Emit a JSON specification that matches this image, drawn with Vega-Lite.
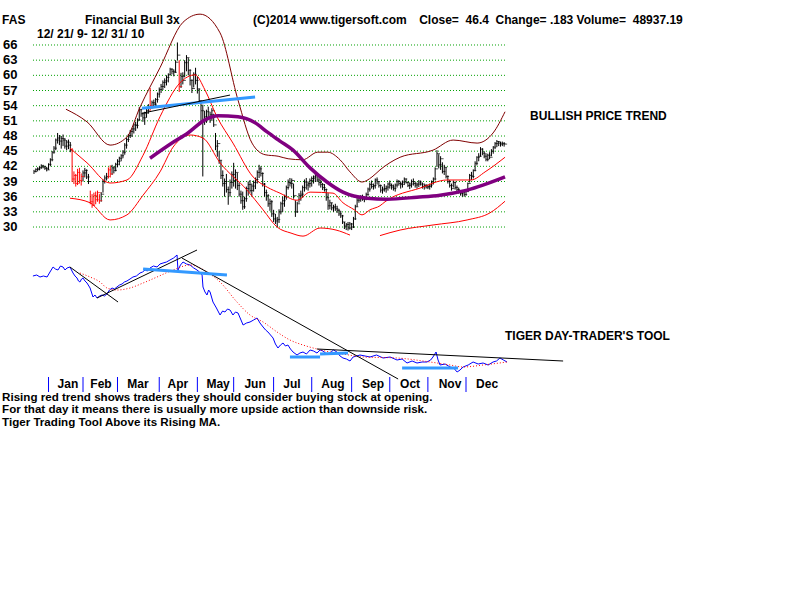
{
"$schema":"https://vega.github.io/schema/vega-lite/v6.json",
"width":800,"height":600,"padding":0,
"autosize":{"type":"fit","contains":"padding"},
"background":"white",
"config":{"view":{"stroke":null},"text":{"font":"Liberation Sans","fontWeight":"bold","fontSize":12,"align":"left","baseline":"middle","color":"black"}},
"datasets":{
"bars":[
{"d":0,"l":40.5,"h":41.3,"c":41.0,"s":0},{"d":1,"l":40.8,"h":41.6,"c":41.4,"s":0},{"d":2,"l":41.0,"h":41.8,"c":41.5,"s":0},{"d":3,"l":41.2,"h":42.0,"c":41.8,"s":0},{"d":4,"l":41.5,"h":42.4,"c":42.1,"s":0},{"d":5,"l":41.6,"h":42.3,"c":41.9,"s":0},{"d":6,"l":41.3,"h":42.1,"c":41.6,"s":0},{"d":7,"l":41.0,"h":41.9,"c":41.3,"s":0},{"d":8,"l":41.3,"h":42.6,"c":42.4,"s":0},{"d":9,"l":42.0,"h":43.6,"c":43.3,"s":0},
{"d":10,"l":43.0,"h":45.0,"c":44.8,"s":0},{"d":11,"l":44.5,"h":46.0,"c":45.6,"s":0},{"d":12,"l":45.2,"h":47.5,"c":47.2,"s":0},{"d":13,"l":46.5,"h":48.6,"c":47.6,"s":0},{"d":14,"l":46.2,"h":48.2,"c":47.0,"s":0},{"d":15,"l":45.5,"h":48.0,"c":47.5,"s":0},{"d":16,"l":46.0,"h":48.3,"c":47.2,"s":0},{"d":17,"l":45.5,"h":47.6,"c":46.0,"s":0},{"d":18,"l":45.2,"h":47.2,"c":46.8,"s":0},{"d":19,"l":45.4,"h":47.3,"c":46.2,"s":0},
{"d":20,"l":44.8,"h":46.8,"c":45.2,"s":0},{"d":21,"l":38.9,"h":45.6,"c":39.5,"s":1},{"d":22,"l":38.5,"h":41.0,"c":40.2,"s":1},{"d":23,"l":38.0,"h":40.5,"c":38.6,"s":1},{"d":24,"l":38.3,"h":41.5,"c":40.8,"s":1},{"d":25,"l":38.6,"h":41.7,"c":39.2,"s":1},{"d":26,"l":38.2,"h":40.6,"c":40.0,"s":1},{"d":27,"l":39.0,"h":41.2,"c":40.7,"s":0},{"d":28,"l":39.8,"h":41.7,"c":41.2,"s":0},{"d":29,"l":39.5,"h":41.4,"c":39.9,"s":0},
{"d":30,"l":38.5,"h":40.5,"c":39.0,"s":0},{"d":31,"l":34.5,"h":37.2,"c":35.0,"s":1},{"d":32,"l":33.8,"h":36.5,"c":34.3,"s":1},{"d":33,"l":34.2,"h":36.8,"c":36.2,"s":1},{"d":34,"l":34.5,"h":37.0,"c":35.4,"s":1},{"d":35,"l":35.0,"h":37.2,"c":36.8,"s":1},{"d":36,"l":34.6,"h":36.5,"c":35.2,"s":1},{"d":37,"l":35.0,"h":36.9,"c":36.5,"s":0},{"d":38,"l":36.8,"h":39.4,"c":39.0,"s":0},{"d":39,"l":38.6,"h":40.2,"c":39.7,"s":0},
{"d":40,"l":39.2,"h":40.7,"c":40.0,"s":0},{"d":41,"l":39.6,"h":41.8,"c":41.3,"s":1},{"d":42,"l":39.8,"h":42.2,"c":40.5,"s":1},{"d":43,"l":40.3,"h":42.3,"c":41.7,"s":0},{"d":44,"l":40.6,"h":42.0,"c":41.2,"s":0},{"d":45,"l":41.0,"h":42.7,"c":42.4,"s":0},{"d":46,"l":41.8,"h":43.4,"c":43.0,"s":0},{"d":47,"l":42.2,"h":43.9,"c":43.6,"s":0},{"d":48,"l":43.0,"h":44.4,"c":44.1,"s":0},{"d":49,"l":43.6,"h":45.2,"c":44.8,"s":0},
{"d":50,"l":44.3,"h":46.6,"c":46.2,"s":0},{"d":51,"l":45.5,"h":47.6,"c":47.3,"s":0},{"d":52,"l":46.8,"h":48.4,"c":48.1,"s":0},{"d":53,"l":47.6,"h":49.2,"c":48.9,"s":0},{"d":54,"l":47.8,"h":49.6,"c":49.4,"s":0},{"d":55,"l":48.5,"h":50.5,"c":50.2,"s":0},{"d":56,"l":49.0,"h":50.8,"c":50.1,"s":0},{"d":57,"l":49.5,"h":51.5,"c":51.2,"s":0},{"d":58,"l":51.0,"h":53.7,"c":53.2,"s":0},{"d":59,"l":51.8,"h":53.4,"c":52.4,"s":0},
{"d":60,"l":50.8,"h":52.6,"c":51.6,"s":0},{"d":61,"l":50.2,"h":52.8,"c":52.5,"s":0},{"d":62,"l":51.6,"h":53.6,"c":53.0,"s":0},{"d":63,"l":52.4,"h":54.3,"c":53.8,"s":0},{"d":64,"l":53.0,"h":57.5,"c":54.0,"s":1},{"d":65,"l":53.4,"h":55.0,"c":54.6,"s":0},{"d":66,"l":53.5,"h":55.2,"c":54.3,"s":0},{"d":67,"l":53.7,"h":55.5,"c":55.2,"s":0},{"d":68,"l":54.6,"h":56.6,"c":56.3,"s":0},{"d":69,"l":55.6,"h":57.6,"c":57.2,"s":0},
{"d":70,"l":56.5,"h":58.3,"c":57.8,"s":0},{"d":71,"l":57.1,"h":59.0,"c":58.6,"s":0},{"d":72,"l":57.5,"h":59.4,"c":58.9,"s":0},{"d":73,"l":58.0,"h":60.0,"c":59.6,"s":0},{"d":74,"l":58.6,"h":60.4,"c":60.1,"s":0},{"d":75,"l":60.0,"h":61.5,"c":61.2,"s":0},{"d":76,"l":60.2,"h":61.4,"c":60.8,"s":0},{"d":77,"l":59.8,"h":61.2,"c":60.6,"s":0},{"d":78,"l":60.5,"h":63.0,"c":62.6,"s":0},{"d":79,"l":63.0,"h":66.5,"c":64.0,"s":0},
{"d":80,"l":56.7,"h":63.0,"c":57.8,"s":1},{"d":81,"l":57.5,"h":60.5,"c":59.8,"s":0},{"d":82,"l":58.2,"h":60.6,"c":59.0,"s":0},{"d":83,"l":59.6,"h":63.0,"c":62.5,"s":0},{"d":84,"l":60.8,"h":64.0,"c":63.5,"s":0},{"d":85,"l":60.0,"h":63.4,"c":61.0,"s":0},{"d":86,"l":58.0,"h":61.2,"c":59.0,"s":0},{"d":87,"l":56.5,"h":59.2,"c":57.4,"s":0},{"d":88,"l":57.6,"h":60.6,"c":60.2,"s":0},{"d":89,"l":58.2,"h":61.5,"c":59.0,"s":0},
{"d":90,"l":56.4,"h":59.8,"c":57.3,"s":0},{"d":91,"l":54.6,"h":57.4,"c":55.0,"s":0},{"d":92,"l":51.0,"h":54.5,"c":53.0,"s":0},{"d":93,"l":40.0,"h":54.2,"c":51.0,"s":0},{"d":94,"l":50.2,"h":53.0,"c":51.8,"s":0},{"d":95,"l":50.6,"h":53.2,"c":52.8,"s":0},{"d":96,"l":51.2,"h":53.8,"c":51.6,"s":0},{"d":97,"l":50.6,"h":52.8,"c":52.2,"s":0},{"d":98,"l":51.0,"h":53.5,"c":53.0,"s":0},{"d":99,"l":49.8,"h":52.4,"c":50.2,"s":0},
{"d":100,"l":45.2,"h":48.6,"c":46.0,"s":0},{"d":101,"l":43.9,"h":47.2,"c":46.5,"s":0},{"d":102,"l":42.5,"h":45.0,"c":43.2,"s":0},{"d":103,"l":39.5,"h":43.2,"c":40.2,"s":0},{"d":104,"l":38.0,"h":41.2,"c":38.6,"s":0},{"d":105,"l":36.0,"h":39.6,"c":39.0,"s":0},{"d":106,"l":36.8,"h":40.5,"c":37.4,"s":0},{"d":107,"l":34.4,"h":38.0,"c":36.8,"s":0},{"d":108,"l":36.0,"h":39.4,"c":38.8,"s":0},{"d":109,"l":37.6,"h":41.0,"c":40.4,"s":0},
{"d":110,"l":38.0,"h":42.7,"c":39.2,"s":0},{"d":111,"l":37.6,"h":41.4,"c":40.8,"s":0},{"d":112,"l":37.3,"h":40.7,"c":38.2,"s":0},{"d":113,"l":36.0,"h":38.8,"c":36.5,"s":0},{"d":114,"l":34.6,"h":37.2,"c":35.2,"s":0},{"d":115,"l":33.4,"h":37.0,"c":34.0,"s":0},{"d":116,"l":33.6,"h":36.0,"c":35.6,"s":0},{"d":117,"l":35.0,"h":38.0,"c":37.6,"s":0},{"d":118,"l":36.2,"h":39.0,"c":38.4,"s":0},{"d":119,"l":36.8,"h":39.3,"c":37.2,"s":0},
{"d":120,"l":36.0,"h":38.6,"c":38.1,"s":0},{"d":121,"l":37.0,"h":39.2,"c":38.8,"s":0},{"d":122,"l":37.5,"h":39.8,"c":39.4,"s":0},{"d":123,"l":38.6,"h":41.2,"c":40.8,"s":0},{"d":124,"l":39.7,"h":42.3,"c":41.5,"s":0},{"d":125,"l":40.0,"h":42.0,"c":40.6,"s":0},{"d":126,"l":38.0,"h":40.8,"c":38.5,"s":0},{"d":127,"l":36.0,"h":38.7,"c":36.8,"s":0},{"d":128,"l":35.2,"h":37.4,"c":36.2,"s":0},{"d":129,"l":34.0,"h":36.5,"c":34.6,"s":0},
{"d":130,"l":33.2,"h":35.6,"c":35.0,"s":0},{"d":131,"l":32.0,"h":35.3,"c":32.6,"s":0},{"d":132,"l":31.0,"h":33.4,"c":31.6,"s":0},{"d":133,"l":30.6,"h":32.6,"c":31.2,"s":0},{"d":134,"l":30.0,"h":32.0,"c":31.5,"s":0},{"d":135,"l":30.8,"h":33.5,"c":33.0,"s":0},{"d":136,"l":32.5,"h":35.0,"c":34.6,"s":0},{"d":137,"l":33.0,"h":36.0,"c":35.2,"s":0},{"d":138,"l":34.0,"h":36.4,"c":36.0,"s":0},{"d":139,"l":35.4,"h":38.2,"c":37.8,"s":0},
{"d":140,"l":37.4,"h":39.4,"c":38.8,"s":0},{"d":141,"l":38.0,"h":39.7,"c":38.6,"s":0},{"d":142,"l":37.6,"h":39.6,"c":39.2,"s":0},{"d":143,"l":35.6,"h":38.6,"c":36.2,"s":0},{"d":144,"l":32.0,"h":35.3,"c":33.0,"s":0},{"d":145,"l":32.8,"h":35.0,"c":34.6,"s":0},{"d":146,"l":34.8,"h":36.7,"c":36.2,"s":0},{"d":147,"l":35.2,"h":37.2,"c":36.5,"s":0},{"d":148,"l":35.8,"h":38.2,"c":37.8,"s":0},{"d":149,"l":37.0,"h":39.4,"c":38.9,"s":0},
{"d":150,"l":37.4,"h":39.7,"c":38.3,"s":0},{"d":151,"l":37.2,"h":39.0,"c":38.6,"s":0},{"d":152,"l":37.8,"h":39.6,"c":39.2,"s":0},{"d":153,"l":38.0,"h":40.0,"c":39.6,"s":0},{"d":154,"l":38.6,"h":40.2,"c":39.9,"s":0},{"d":155,"l":38.9,"h":40.7,"c":40.3,"s":0},{"d":156,"l":38.9,"h":40.6,"c":39.3,"s":0},{"d":157,"l":38.2,"h":39.8,"c":38.8,"s":0},{"d":158,"l":37.8,"h":39.4,"c":38.4,"s":0},{"d":159,"l":37.3,"h":38.7,"c":37.8,"s":0},
{"d":160,"l":37.0,"h":38.5,"c":37.4,"s":0},{"d":161,"l":35.2,"h":37.6,"c":35.8,"s":0},{"d":162,"l":33.4,"h":36.7,"c":34.2,"s":0},{"d":163,"l":33.5,"h":35.4,"c":34.8,"s":0},{"d":164,"l":33.3,"h":34.8,"c":33.8,"s":0},{"d":165,"l":33.0,"h":34.4,"c":34.0,"s":0},{"d":166,"l":33.2,"h":34.6,"c":33.6,"s":0},{"d":167,"l":32.8,"h":34.2,"c":33.3,"s":0},{"d":168,"l":32.2,"h":33.6,"c":32.6,"s":0},{"d":169,"l":31.8,"h":33.2,"c":32.2,"s":0},
{"d":170,"l":30.6,"h":32.4,"c":31.0,"s":0},{"d":171,"l":29.6,"h":31.0,"c":30.2,"s":0},{"d":172,"l":29.4,"h":30.8,"c":30.5,"s":0},{"d":173,"l":29.3,"h":31.0,"c":29.8,"s":0},{"d":174,"l":29.5,"h":31.0,"c":30.6,"s":0},{"d":175,"l":29.4,"h":30.8,"c":30.0,"s":0},{"d":176,"l":29.8,"h":32.0,"c":31.6,"s":0},{"d":177,"l":31.4,"h":34.4,"c":34.0,"s":0},{"d":178,"l":34.0,"h":35.8,"c":35.3,"s":0},{"d":179,"l":34.8,"h":36.2,"c":35.6,"s":0},
{"d":180,"l":35.0,"h":36.3,"c":35.8,"s":0},{"d":181,"l":35.2,"h":36.4,"c":35.5,"s":0},{"d":182,"l":34.9,"h":36.0,"c":35.6,"s":0},{"d":183,"l":35.3,"h":36.8,"c":36.4,"s":0},{"d":184,"l":36.2,"h":37.8,"c":37.5,"s":0},{"d":185,"l":37.0,"h":38.8,"c":38.4,"s":0},{"d":186,"l":37.6,"h":39.2,"c":38.0,"s":0},{"d":187,"l":37.4,"h":38.6,"c":38.2,"s":0},{"d":188,"l":37.6,"h":39.6,"c":39.3,"s":0},{"d":189,"l":38.4,"h":39.8,"c":39.0,"s":0},
{"d":190,"l":37.8,"h":39.0,"c":38.2,"s":0},{"d":191,"l":36.8,"h":38.4,"c":37.3,"s":0},{"d":192,"l":36.6,"h":38.0,"c":37.5,"s":0},{"d":193,"l":37.0,"h":38.5,"c":37.6,"s":0},{"d":194,"l":36.8,"h":38.2,"c":37.9,"s":0},{"d":195,"l":37.2,"h":38.8,"c":38.5,"s":0},{"d":196,"l":37.6,"h":39.2,"c":38.2,"s":0},{"d":197,"l":37.4,"h":38.6,"c":37.9,"s":0},{"d":198,"l":37.2,"h":38.4,"c":37.6,"s":0},{"d":199,"l":37.0,"h":38.6,"c":38.3,"s":0},
{"d":200,"l":37.8,"h":39.4,"c":39.0,"s":0},{"d":201,"l":38.2,"h":39.3,"c":38.6,"s":0},{"d":202,"l":37.6,"h":39.0,"c":38.4,"s":0},{"d":203,"l":37.8,"h":39.2,"c":38.9,"s":0},{"d":204,"l":38.3,"h":39.8,"c":39.5,"s":0},{"d":205,"l":38.6,"h":39.6,"c":38.8,"s":0},{"d":206,"l":37.9,"h":39.0,"c":38.2,"s":0},{"d":207,"l":37.5,"h":38.8,"c":38.5,"s":0},{"d":208,"l":37.8,"h":39.4,"c":39.0,"s":0},{"d":209,"l":38.2,"h":39.6,"c":38.6,"s":0},
{"d":210,"l":37.8,"h":39.0,"c":38.3,"s":0},{"d":211,"l":37.6,"h":38.8,"c":38.5,"s":0},{"d":212,"l":37.9,"h":39.3,"c":38.9,"s":0},{"d":213,"l":38.2,"h":39.2,"c":38.5,"s":0},{"d":214,"l":37.6,"h":38.8,"c":38.0,"s":0},{"d":215,"l":37.4,"h":38.6,"c":38.2,"s":0},{"d":216,"l":37.6,"h":38.5,"c":37.9,"s":0},{"d":217,"l":37.5,"h":38.4,"c":38.0,"s":0},{"d":218,"l":37.4,"h":38.6,"c":38.3,"s":0},{"d":219,"l":37.8,"h":39.2,"c":38.9,"s":0},
{"d":220,"l":38.4,"h":39.8,"c":39.5,"s":0},{"d":221,"l":39.2,"h":41.8,"c":41.5,"s":0},{"d":222,"l":41.9,"h":45.2,"c":44.5,"s":0},{"d":223,"l":41.6,"h":44.4,"c":42.3,"s":0},{"d":224,"l":41.3,"h":44.0,"c":43.5,"s":0},{"d":225,"l":40.6,"h":42.8,"c":41.0,"s":0},{"d":226,"l":40.3,"h":42.3,"c":41.8,"s":0},{"d":227,"l":39.6,"h":41.8,"c":40.0,"s":0},{"d":228,"l":38.6,"h":40.2,"c":39.0,"s":0},{"d":229,"l":37.8,"h":39.3,"c":38.2,"s":0},
{"d":230,"l":37.2,"h":38.6,"c":37.6,"s":0},{"d":231,"l":37.8,"h":39.2,"c":38.8,"s":0},{"d":232,"l":37.4,"h":39.0,"c":37.8,"s":0},{"d":233,"l":37.0,"h":38.2,"c":37.4,"s":0},{"d":234,"l":36.6,"h":37.8,"c":37.2,"s":0},{"d":235,"l":36.2,"h":37.3,"c":36.6,"s":0},{"d":236,"l":36.0,"h":37.2,"c":36.9,"s":0},{"d":237,"l":36.0,"h":37.3,"c":36.4,"s":0},{"d":238,"l":36.2,"h":37.4,"c":37.0,"s":0},{"d":239,"l":37.0,"h":38.8,"c":38.6,"s":0},
{"d":240,"l":38.8,"h":40.5,"c":40.2,"s":0},{"d":241,"l":39.3,"h":40.9,"c":40.0,"s":0},{"d":242,"l":39.6,"h":41.4,"c":41.2,"s":0},{"d":243,"l":41.0,"h":43.0,"c":42.6,"s":0},{"d":244,"l":42.2,"h":44.0,"c":43.8,"s":0},{"d":245,"l":43.0,"h":44.6,"c":44.0,"s":0},{"d":246,"l":43.9,"h":45.8,"c":45.4,"s":0},{"d":247,"l":44.2,"h":45.6,"c":44.6,"s":0},{"d":248,"l":43.6,"h":45.0,"c":44.0,"s":0},{"d":249,"l":43.0,"h":44.6,"c":43.4,"s":0},
{"d":250,"l":43.0,"h":44.5,"c":44.2,"s":0},{"d":251,"l":43.4,"h":44.8,"c":43.8,"s":0},{"d":252,"l":44.0,"h":45.4,"c":45.0,"s":0},{"d":253,"l":44.5,"h":46.0,"c":45.8,"s":0},{"d":254,"l":45.4,"h":46.8,"c":46.5,"s":0},{"d":255,"l":45.8,"h":47.2,"c":46.9,"s":0},{"d":256,"l":46.0,"h":47.0,"c":46.6,"s":0},{"d":257,"l":45.9,"h":46.9,"c":46.4,"s":0},{"d":258,"l":46.0,"h":46.9,"c":46.5,"s":0},{"d":259,"l":45.9,"h":46.8,"c":46.4,"s":0}
],
"bands":[
{"b":"upper","d":17.6,"v":53.3},{"b":"upper","d":29.2,"v":50.8},{"b":"upper","d":41.9,"v":46.2},{"b":"upper","d":51.2,"v":47.8},{"b":"upper","d":58.4,"v":53.7},{"b":"upper","d":69.4,"v":61.5},{"b":"upper","d":82.1,"v":70.5},{"b":"upper","d":91.5,"v":72.1},{"b":"upper","d":102.5,"v":68.4},{"b":"upper","d":112.4,"v":55.1},{"b":"upper","d":120.1,"v":46.6},{"b":"upper","d":127.3,"v":44.3},{"b":"upper","d":134.5,"v":44.0},{"b":"upper","d":140.0,"v":43.5},{"b":"upper","d":148.0,"v":43.3},{"b":"upper","d":156.3,"v":44.8},{"b":"upper","d":161.8,"v":44.8},{"b":"upper","d":168.6,"v":43.3},{"b":"upper","d":174.1,"v":40.9},{"b":"upper","d":180.7,"v":38.9},{"b":"upper","d":186.2,"v":39.9},{"b":"upper","d":190.6,"v":41.3},{"b":"upper","d":201.7,"v":43.8},{"b":"upper","d":219.8,"v":45.2},{"b":"upper","d":230.9,"v":47.2},{"b":"upper","d":244.1,"v":46.6},{"b":"upper","d":252.9,"v":48.6},{"b":"upper","d":259.5,"v":52.8},
{"b":"mid","d":19.8,"v":45.6},{"b":"mid","d":29.2,"v":42.7},{"b":"mid","d":41.9,"v":38.7},{"b":"mid","d":51.2,"v":39.3},{"b":"mid","d":60.1,"v":44.2},{"b":"mid","d":69.4,"v":51.8},{"b":"mid","d":80.4,"v":58.5},{"b":"mid","d":88.7,"v":60.1},{"b":"mid","d":94.2,"v":57.1},{"b":"mid","d":100.8,"v":51.8},{"b":"mid","d":109.6,"v":46.6},{"b":"mid","d":120.7,"v":39.9},{"b":"mid","d":128.4,"v":37.9},{"b":"mid","d":135.5,"v":36.7},{"b":"mid","d":144.9,"v":35.3},{"b":"mid","d":152.1,"v":36.9},{"b":"mid","d":164.7,"v":36.7},{"b":"mid","d":170.2,"v":34.8},{"b":"mid","d":176.5,"v":33.4},{"b":"mid","d":180.7,"v":32.4},{"b":"mid","d":185.1,"v":33.4},{"b":"mid","d":190.6,"v":34.2},{"b":"mid","d":193.4,"v":35.0},{"b":"mid","d":212.7,"v":37.7},{"b":"mid","d":227.6,"v":39.3},{"b":"mid","d":240.8,"v":39.3},{"b":"mid","d":248.5,"v":40.9},{"b":"mid","d":259.5,"v":43.8},
{"b":"low","d":19.8,"v":35.7},{"b":"low","d":30.9,"v":34.8},{"b":"low","d":41.9,"v":31.4},{"b":"low","d":51.2,"v":32.4},{"b":"low","d":60.1,"v":36.3},{"b":"low","d":69.4,"v":40.9},{"b":"low","d":76.6,"v":45.8},{"b":"low","d":86.0,"v":48.2},{"b":"low","d":93.1,"v":47.6},{"b":"low","d":102.5,"v":42.7},{"b":"low","d":117.4,"v":37.3},{"b":"low","d":126.2,"v":33.4},{"b":"low","d":133.9,"v":30.0},{"b":"low","d":141.6,"v":28.8},{"b":"low","d":148.2,"v":28.2},{"b":"low","d":157.6,"v":29.8},{"b":"low","d":166.4,"v":29.4},{"b":"low","d":174.1,"v":28.4},
{"b":"low2","d":190.6,"v":28.3},{"b":"low2","d":201.7,"v":29.4},{"b":"low2","d":219.8,"v":30.4},{"b":"low2","d":238.6,"v":31.4},{"b":"low2","d":251.2,"v":32.8},{"b":"low2","d":259.5,"v":35.1}
],
"ma":[
{"d":63.9,"v":43.6},{"d":76.0,"v":46.6},{"d":84.8,"v":48.6},{"d":94.2,"v":51.2},{"d":101.4,"v":52.0},{"d":112.4,"v":51.8},{"d":121.8,"v":50.6},{"d":128.4,"v":48.8},{"d":135.5,"v":47.0},{"d":142.7,"v":45.2},{"d":152.1,"v":41.7},{"d":161.4,"v":38.9},{"d":170.2,"v":36.9},{"d":183.5,"v":35.7},{"d":194.5,"v":35.5},{"d":211.0,"v":35.9},{"d":223.7,"v":36.3},{"d":238.6,"v":37.3},{"d":259.5,"v":39.9}
],
"ptrend":[
{"k":"black","d":59.5,"v":52.5,"d2":108.0,"v2":56.1},
{"k":"blue","d":59.5,"v":53.5,"d2":121.8,"v2":55.7}
],
"grid":[{"p":30},{"p":33},{"p":36},{"p":39},{"p":42},{"p":45},{"p":48},{"p":51},{"p":54},{"p":57},{"p":60},{"p":63},{"p":66}],
"ptext":[
{"t":"FAS","d":-17.6,"v":70.94},
{"t":"Financial Bull 3x","d":28.1,"v":70.94},
{"t":"(C)2014 www.tigersoft.com","d":120.7,"v":70.94},
{"t":"Close=\u00a0 46.4\u00a0 Change= .183 Volume=\u00a0 48937.19","d":212.2,"v":70.94},
{"t":"12/ 21/ 9- 12/ 31/ 10","d":1.65,"v":68.18},
{"t":"BULLISH PRICE TREND","d":273.3,"v":51.96}
],
"tool":[
{"d":-0.6,"v":104},{"d":1.5,"v":105},{"d":3.3,"v":103},{"d":5.2,"v":104},{"d":7.2,"v":103},{"d":8.8,"v":108},{"d":10.5,"v":113},{"d":11.8,"v":111},{"d":13.2,"v":110},{"d":14.6,"v":114},{"d":16.0,"v":113},{"d":17.1,"v":110},{"d":18.2,"v":112},{"d":19.8,"v":113},{"d":21.5,"v":107},{"d":22.6,"v":104},{"d":23.7,"v":102},{"d":24.5,"v":99},{"d":25.3,"v":98},{"d":26.2,"v":101},{"d":27.0,"v":102},{"d":28.1,"v":99},{"d":29.2,"v":97},{"d":30.9,"v":92},{"d":32.5,"v":83},{"d":33.6,"v":85},{"d":34.7,"v":82},{"d":36.2,"v":84},{"d":37.5,"v":85},{"d":38.8,"v":84},{"d":40.2,"v":86},{"d":41.6,"v":90},{"d":43.0,"v":92},{"d":44.3,"v":91},{"d":45.7,"v":93},{"d":47.1,"v":95},{"d":48.5,"v":96},{"d":49.8,"v":98},{"d":51.2,"v":99},{"d":52.9,"v":101},{"d":54.5,"v":103},{"d":56.4,"v":104},{"d":58.4,"v":107},{"d":59.8,"v":108},{"d":61.2,"v":110},{"d":62.5,"v":109},{"d":63.9,"v":112},{"d":65.8,"v":114},{"d":67.8,"v":113},{"d":69.4,"v":116},{"d":71.1,"v":117},{"d":73.0,"v":118},{"d":74.9,"v":120},{"d":76.9,"v":122},{"d":78.8,"v":125},{"d":79.3,"v":110},{"d":80.7,"v":115},{"d":82.1,"v":118},{"d":84.0,"v":116},{"d":86.0,"v":115},{"d":88.0,"v":112},{"d":89.8,"v":110},{"d":91.2,"v":108},{"d":92.6,"v":105},{"d":93.1,"v":93},{"d":94.2,"v":88},{"d":95.3,"v":85},{"d":96.2,"v":90},{"d":97.0,"v":88},{"d":98.6,"v":78},{"d":100.5,"v":72},{"d":102.5,"v":65},{"d":103.9,"v":69},{"d":105.2,"v":68},{"d":106.6,"v":71},{"d":108.0,"v":70},{"d":109.6,"v":65},{"d":111.0,"v":68},{"d":112.4,"v":67},{"d":113.8,"v":61},{"d":115.2,"v":55},{"d":117.1,"v":57},{"d":119.0,"v":58},{"d":121.0,"v":60},{"d":122.9,"v":62},{"d":124.5,"v":57},{"d":126.2,"v":53},{"d":127.6,"v":50},{"d":128.9,"v":48},{"d":130.3,"v":45},{"d":131.7,"v":42},{"d":133.0,"v":36},{"d":134.4,"v":32},{"d":135.8,"v":35},{"d":137.2,"v":37},{"d":138.5,"v":34},{"d":139.9,"v":35},{"d":141.3,"v":31},{"d":142.7,"v":28},{"d":144.9,"v":25},{"d":146.5,"v":27},{"d":148.2,"v":28},{"d":150.1,"v":26},{"d":152.1,"v":30},{"d":154.0,"v":29},{"d":155.9,"v":27},{"d":157.6,"v":30},{"d":159.2,"v":29},{"d":161.2,"v":26},{"d":163.1,"v":27},{"d":165.0,"v":30},{"d":166.9,"v":28},{"d":168.6,"v":24},{"d":170.2,"v":22},{"d":172.1,"v":21},{"d":174.1,"v":19},{"d":175.8,"v":23},{"d":177.7,"v":24},{"d":179.6,"v":25},{"d":182.4,"v":24},{"d":185.1,"v":23},{"d":188.7,"v":25},{"d":192.3,"v":22},{"d":196.2,"v":23},{"d":200.0,"v":20},{"d":202.8,"v":21},{"d":205.5,"v":17},{"d":208.3,"v":19},{"d":211.0,"v":17},{"d":213.8,"v":18},{"d":216.5,"v":18},{"d":218.5,"v":20},{"d":219.8,"v":23},{"d":221.5,"v":28},{"d":222.6,"v":20},{"d":223.7,"v":15},{"d":226.5,"v":16},{"d":229.2,"v":13},{"d":231.2,"v":12},{"d":233.1,"v":8},{"d":234.7,"v":10},{"d":236.4,"v":13},{"d":239.2,"v":15},{"d":241.9,"v":18},{"d":244.7,"v":16},{"d":247.4,"v":17},{"d":250.2,"v":15},{"d":252.9,"v":18},{"d":254.8,"v":19},{"d":256.7,"v":22},{"d":258.6,"v":20},{"d":260.6,"v":18}
],
"toolma":[
{"d":25.3,"v":107},{"d":30.9,"v":103},{"d":36.4,"v":98},{"d":40.2,"v":92},{"d":45.7,"v":90},{"d":52.9,"v":92},{"d":60.1,"v":97},{"d":67.8,"v":103},{"d":76.6,"v":110},{"d":86.0,"v":115},{"d":91.5,"v":112},{"d":95.3,"v":108},{"d":102.5,"v":98},{"d":111.8,"v":78},{"d":119.0,"v":65},{"d":126.2,"v":58},{"d":133.9,"v":48},{"d":141.0,"v":40},{"d":148.2,"v":35},{"d":155.9,"v":31},{"d":163.1,"v":28},{"d":170.2,"v":26},{"d":181.3,"v":23},{"d":200.0,"v":22},{"d":218.2,"v":18},{"d":229.2,"v":15},{"d":236.4,"v":13},{"d":247.4,"v":15},{"d":260.6,"v":18}
],
"ttrend":[
{"k":"black","d":19.8,"v":113,"d2":46.3,"v2":78},
{"k":"black","d":34.7,"v":82,"d2":89.8,"v2":130},
{"k":"black","d":81.5,"v":122,"d2":200.6,"v2":1},
{"k":"black","d":155.9,"v":31,"d2":291.5,"v2":19},
{"k":"blue","d":60.1,"v":111,"d2":106.3,"v2":105},
{"k":"blue","d":141.0,"v":23,"d2":157.6,"v2":23},
{"k":"blue","d":157.6,"v":26,"d2":173.0,"v2":27},
{"k":"blue","d":202.8,"v":12,"d2":233.6,"v2":12}
],
"months":[
{"m":"Jan","d":8,"c":18.7},{"m":"Feb","d":27,"c":36.9},{"m":"Mar","d":46,"c":57.3},{"m":"Apr","d":69,"c":79.3},{"m":"May","d":90,"c":101.4},{"m":"Jun","d":110,"c":121.8},{"m":"Jul","d":132,"c":142.1},{"m":"Aug","d":153,"c":164.7},{"m":"Sep","d":175,"c":186.8},{"m":"Oct","d":196,"c":207.2},{"m":"Nov","d":217,"c":229.2},{"m":"Dec","d":238,"c":249.6}
],
"ttext":[
{"t":"TIGER DAY-TRADER'S TOOL","d":259.5,"v":44,"z":"big"},
{"t":"Rising red trend shows traders they should consider buying stock at opening.","d":-17.6,"v":-17.5,"z":"small"},
{"t":"\u00a0For that day it means there is usually more upside action than downside risk.","d":-17.6,"v":-30,"z":"small"},
{"t":"Tiger Trading Tool Above its Rising MA.","d":-17.6,"v":-42.5,"z":"small"}
]
},
"layer":[
{
"layer":[
{"data":{"name":"grid"},"mark":{"type":"rule","color":"#00a000","strokeWidth":1,"strokeDash":[1,2]},
 "encoding":{"x":{"datum":-0.55,"type":"quantitative","scale":{"domain":[-18.73,422.0],"nice":false,"zero":false},"axis":null},"x2":{"datum":260.6},"y":{"field":"p","type":"quantitative","scale":{"domain":[-43.77,74.9],"nice":false,"zero":false},"axis":null}}},
{"data":{"name":"grid"},"mark":{"type":"text","fontSize":13},
 "encoding":{"x":{"datum":-17.1,"type":"quantitative","scale":{"domain":[-18.73,422.0],"nice":false,"zero":false},"axis":null},"y":{"field":"p","type":"quantitative","scale":{"domain":[-43.77,74.9],"nice":false,"zero":false},"axis":null},"text":{"field":"p","type":"quantitative"}}},
{"data":{"name":"bars"},"transform":[{"filter":"datum.s == 0"}],"mark":{"type":"rule","strokeWidth":1,"color":"#000000"},
 "encoding":{"x":{"field":"d","type":"quantitative","scale":{"domain":[-18.73,422.0],"nice":false,"zero":false},"axis":null},"y":{"field":"l","type":"quantitative","scale":{"domain":[-43.77,74.9],"nice":false,"zero":false},"axis":null},"y2":{"field":"h"}}},
{"data":{"name":"bars"},"transform":[{"filter":"datum.s == 0"}],"mark":{"type":"tick","orient":"horizontal","size":3,"thickness":1,"xOffset":1.5,"color":"#000000"},
 "encoding":{"x":{"field":"d","type":"quantitative","scale":{"domain":[-18.73,422.0],"nice":false,"zero":false},"axis":null},"y":{"field":"c","type":"quantitative","scale":{"domain":[-43.77,74.9],"nice":false,"zero":false},"axis":null}}},
{"data":{"name":"bars"},"transform":[{"filter":"datum.s == 1"}],"mark":{"type":"rule","strokeWidth":1,"color":"#ff0000"},
 "encoding":{"x":{"field":"d","type":"quantitative","scale":{"domain":[-18.73,422.0],"nice":false,"zero":false},"axis":null},"y":{"field":"l","type":"quantitative","scale":{"domain":[-43.77,74.9],"nice":false,"zero":false},"axis":null},"y2":{"field":"h"}}},
{"data":{"name":"bars"},"transform":[{"filter":"datum.s == 1"}],"mark":{"type":"tick","orient":"horizontal","size":3,"thickness":1,"xOffset":1.5,"color":"#ff0000"},
 "encoding":{"x":{"field":"d","type":"quantitative","scale":{"domain":[-18.73,422.0],"nice":false,"zero":false},"axis":null},"y":{"field":"c","type":"quantitative","scale":{"domain":[-43.77,74.9],"nice":false,"zero":false},"axis":null}}},
{"data":{"name":"bands"},"transform":[{"filter":"datum.b == 'upper'"}],"mark":{"type":"line","strokeWidth":1,"interpolate":"monotone","color":"#800000"},
 "encoding":{"x":{"field":"d","type":"quantitative","scale":{"domain":[-18.73,422.0],"nice":false,"zero":false},"axis":null},"y":{"field":"v","type":"quantitative","scale":{"domain":[-43.77,74.9],"nice":false,"zero":false},"axis":null}}},
{"data":{"name":"bands"},"transform":[{"filter":"datum.b != 'upper'"}],"mark":{"type":"line","strokeWidth":1,"interpolate":"monotone","color":"#ff0000"},
 "encoding":{"x":{"field":"d","type":"quantitative","scale":{"domain":[-18.73,422.0],"nice":false,"zero":false},"axis":null},"y":{"field":"v","type":"quantitative","scale":{"domain":[-43.77,74.9],"nice":false,"zero":false},"axis":null},"detail":{"field":"b","type":"nominal"}}},
{"data":{"name":"ma"},"mark":{"type":"line","strokeWidth":3.5,"color":"#800080","interpolate":"monotone"},
 "encoding":{"x":{"field":"d","type":"quantitative","scale":{"domain":[-18.73,422.0],"nice":false,"zero":false},"axis":null},"y":{"field":"v","type":"quantitative","scale":{"domain":[-43.77,74.9],"nice":false,"zero":false},"axis":null}}},
{"data":{"name":"ptrend"},"transform":[{"filter":"datum.k == 'blue'"}],"mark":{"type":"rule","color":"#3399ff","strokeWidth":3},
 "encoding":{"x":{"field":"d","type":"quantitative","scale":{"domain":[-18.73,422.0],"nice":false,"zero":false},"axis":null},"y":{"field":"v","type":"quantitative","scale":{"domain":[-43.77,74.9],"nice":false,"zero":false},"axis":null},"x2":{"field":"d2"},"y2":{"field":"v2"}}},
{"data":{"name":"ptrend"},"transform":[{"filter":"datum.k == 'black'"}],"mark":{"type":"rule","color":"#000000","strokeWidth":1},
 "encoding":{"x":{"field":"d","type":"quantitative","scale":{"domain":[-18.73,422.0],"nice":false,"zero":false},"axis":null},"y":{"field":"v","type":"quantitative","scale":{"domain":[-43.77,74.9],"nice":false,"zero":false},"axis":null},"x2":{"field":"d2"},"y2":{"field":"v2"}}},
{"data":{"name":"ptext"},"mark":{"type":"text","fontSize":12},
 "encoding":{"x":{"field":"d","type":"quantitative","scale":{"domain":[-18.73,422.0],"nice":false,"zero":false},"axis":null},"y":{"field":"v","type":"quantitative","scale":{"domain":[-43.77,74.9],"nice":false,"zero":false},"axis":null},"text":{"field":"t"}}}
]
},
{
"layer":[
{"data":{"name":"tool"},"mark":{"type":"line","strokeWidth":1,"color":"#0000ff"},
 "encoding":{"x":{"field":"d","type":"quantitative","scale":{"domain":[-18.73,422.0],"nice":false,"zero":false},"axis":null},"y":{"field":"v","type":"quantitative","scale":{"domain":[-220,380],"nice":false,"zero":false},"axis":null}}},
{"data":{"name":"toolma"},"mark":{"type":"line","strokeWidth":1,"color":"#ff0000","strokeDash":[1,2],"interpolate":"monotone"},
 "encoding":{"x":{"field":"d","type":"quantitative","scale":{"domain":[-18.73,422.0],"nice":false,"zero":false},"axis":null},"y":{"field":"v","type":"quantitative","scale":{"domain":[-220,380],"nice":false,"zero":false},"axis":null}}},
{"data":{"name":"ttrend"},"transform":[{"filter":"datum.k == 'black'"}],"mark":{"type":"rule","color":"#000000","strokeWidth":1},
 "encoding":{"x":{"field":"d","type":"quantitative","scale":{"domain":[-18.73,422.0],"nice":false,"zero":false},"axis":null},"y":{"field":"v","type":"quantitative","scale":{"domain":[-220,380],"nice":false,"zero":false},"axis":null},"x2":{"field":"d2"},"y2":{"field":"v2"}}},
{"data":{"name":"ttrend"},"transform":[{"filter":"datum.k == 'blue'"}],"mark":{"type":"rule","color":"#3399ff","strokeWidth":3},
 "encoding":{"x":{"field":"d","type":"quantitative","scale":{"domain":[-18.73,422.0],"nice":false,"zero":false},"axis":null},"y":{"field":"v","type":"quantitative","scale":{"domain":[-220,380],"nice":false,"zero":false},"axis":null},"x2":{"field":"d2"},"y2":{"field":"v2"}}},
{"data":{"name":"months"},"mark":{"type":"rule","color":"#0000ff","strokeWidth":1},
 "encoding":{"x":{"field":"d","type":"quantitative","scale":{"domain":[-18.73,422.0],"nice":false,"zero":false},"axis":null},"y":{"datum":3,"type":"quantitative","scale":{"domain":[-220,380],"nice":false,"zero":false},"axis":null},"y2":{"datum":-12}}},
{"data":{"name":"months"},"mark":{"type":"text","fontSize":12,"align":"center"},
 "encoding":{"x":{"field":"c","type":"quantitative","scale":{"domain":[-18.73,422.0],"nice":false,"zero":false},"axis":null},"y":{"datum":-4,"type":"quantitative","scale":{"domain":[-220,380],"nice":false,"zero":false},"axis":null},"text":{"field":"m"}}},
{"data":{"name":"ttext"},"transform":[{"filter":"datum.z == 'big'"}],"mark":{"type":"text","fontSize":12},
 "encoding":{"x":{"field":"d","type":"quantitative","scale":{"domain":[-18.73,422.0],"nice":false,"zero":false},"axis":null},"y":{"field":"v","type":"quantitative","scale":{"domain":[-220,380],"nice":false,"zero":false},"axis":null},"text":{"field":"t"}}},
{"data":{"name":"ttext"},"transform":[{"filter":"datum.z == 'small'"}],"mark":{"type":"text","fontSize":11.6},
 "encoding":{"x":{"field":"d","type":"quantitative","scale":{"domain":[-18.73,422.0],"nice":false,"zero":false},"axis":null},"y":{"field":"v","type":"quantitative","scale":{"domain":[-220,380],"nice":false,"zero":false},"axis":null},"text":{"field":"t"}}}
]
}
],
"resolve":{"scale":{"y":"independent"}}
}
